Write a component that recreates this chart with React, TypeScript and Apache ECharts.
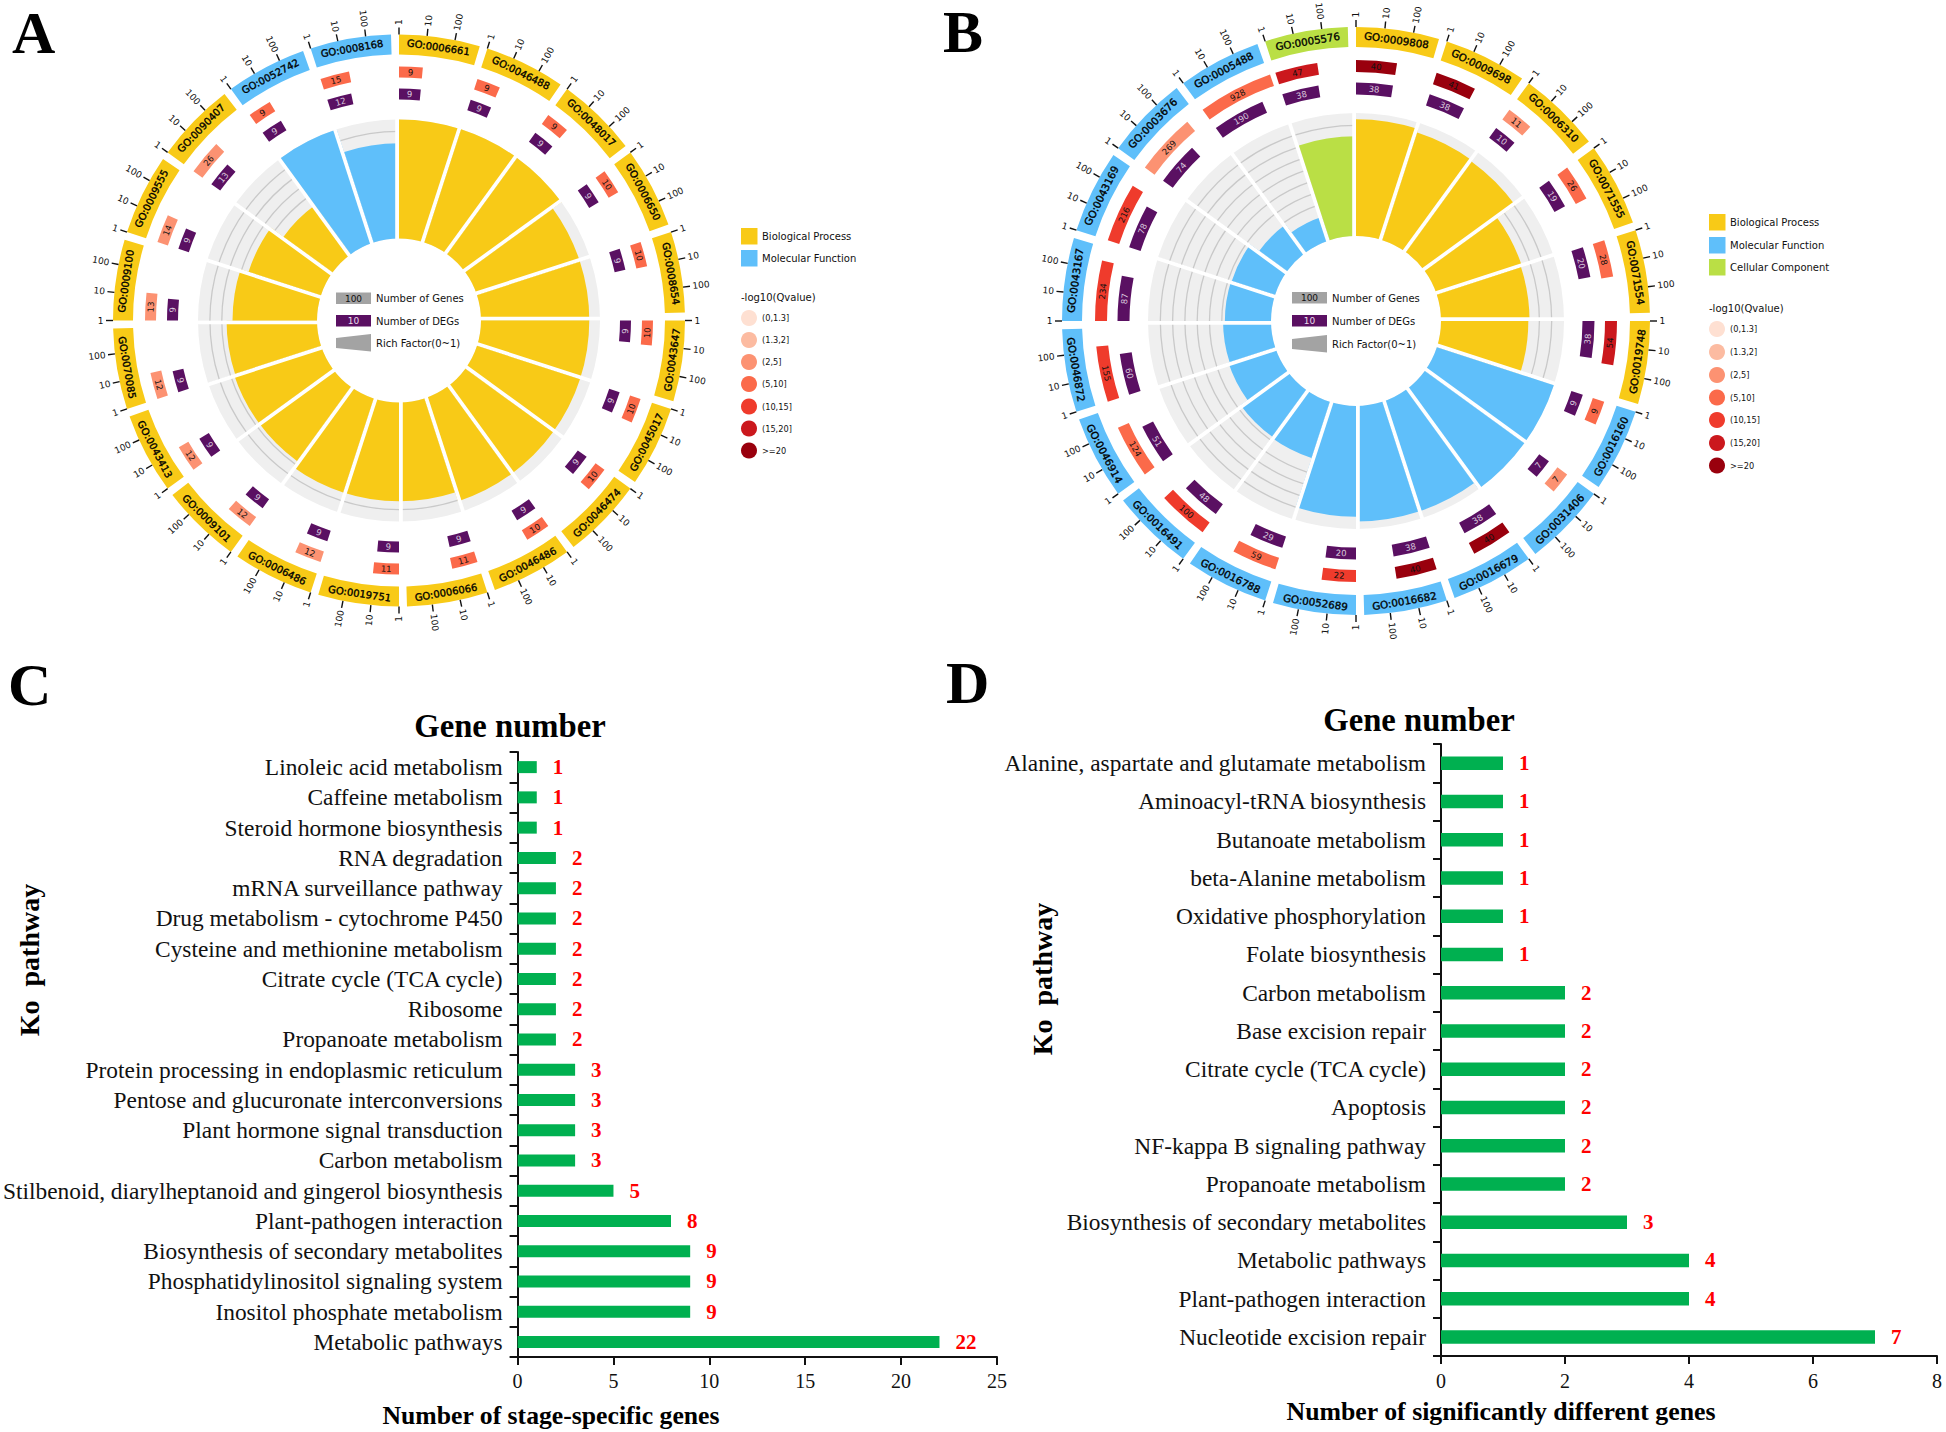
import React, { useEffect, useRef } from "react";
import * as echarts from "echarts";

const GOLD = "#F8CA17";
const BLUE = "#5FBFFA";
const GREEN = "#BADF45";
const PURPLE = "#5A1062";
const QCOLORS = ["#FEE0D2", "#FCBBA1", "#FC9272", "#FB6A4A", "#EF3B2C", "#CB181D", "#99000D"];
const QLABELS = ["(0,1.3]", "(1.3,2]", "(2,5]", "(5,10]", "(10,15]", "(15,20]", ">=20"];

const termsA = ["GO:0006661","GO:0046488","GO:0048017","GO:0006650","GO:0008654","GO:0043647","GO:0045017","GO:0046474","GO:0046486","GO:0006066","GO:0019751","GO:0006486","GO:0009101","GO:0043413","GO:0070085","GO:0009100","GO:0009555","GO:0090407","GO:0052742","GO:0008168"];
const groupA = ["B","B","B","B","B","B","B","B","B","B","B","B","B","B","B","B","B","B","M","M"];
const genesA = [9,9,9,10,10,10,10,10,10,11,11,12,12,12,12,13,14,26,9,15];
const degsA = [9,9,9,9,9,9,9,9,9,9,9,9,9,9,9,9,9,13,9,12];
const qbinA = [3,3,3,3,3,3,3,3,3,3,3,2,2,2,2,2,2,2,3,3];
const richA = [1,1,1,0.91,0.91,0.91,0.91,0.91,0.91,0.83,0.83,0.83,0.77,0.77,0.76,0.71,0.64,0.51,1,0.8];

const termsB = ["GO:0009808","GO:0009698","GO:0006310","GO:0071555","GO:0071554","GO:0019748","GO:0016160","GO:0031406","GO:0016679","GO:0016682","GO:0052689","GO:0016788","GO:0016491","GO:0046914","GO:0046872","GO:0043167","GO:0043169","GO:0003676","GO:0005488","GO:0005576"];
const groupB = ["B","B","B","B","B","B","M","M","M","M","M","M","M","M","M","M","M","M","M","C"];
const genesB = [40,41,11,26,28,54,9,7,40,40,22,59,100,124,155,234,216,269,928,47];
const degsB = [38,38,10,19,20,38,9,7,38,38,20,29,48,51,60,87,78,74,190,38];
const qbinB = [6,6,2,3,3,5,3,2,6,6,4,3,4,3,4,4,4,2,3,5];
const richB = [0.95,0.92,0.91,0.73,0.72,0.71,1,1,0.94,0.94,0.9,0.48,0.47,0.4,0.39,0.375,0.37,0.28,0.2,0.81];

const pathwaysC = ["Linoleic acid metabolism","Caffeine metabolism","Steroid hormone biosynthesis","RNA degradation","mRNA surveillance pathway","Drug metabolism - cytochrome P450","Cysteine and methionine metabolism","Citrate cycle (TCA cycle)","Ribosome","Propanoate metabolism","Protein processing in endoplasmic reticulum","Pentose and glucuronate interconversions","Plant hormone signal transduction","Carbon metabolism","Stilbenoid, diarylheptanoid and gingerol biosynthesis","Plant-pathogen interaction","Biosynthesis of secondary metabolites","Phosphatidylinositol signaling system","Inositol phosphate metabolism","Metabolic pathways"];
const countsC = [1,1,1,2,2,2,2,2,2,2,3,3,3,3,5,8,9,9,9,22];
const pathwaysD = ["Alanine, aspartate and glutamate metabolism","Aminoacyl-tRNA biosynthesis","Butanoate metabolism","beta-Alanine metabolism","Oxidative phosphorylation","Folate biosynthesis","Carbon metabolism","Base excision repair","Citrate cycle (TCA cycle)","Apoptosis","NF-kappa B signaling pathway","Propanoate metabolism","Biosynthesis of secondary metabolites","Metabolic pathways","Plant-pathogen interaction","Nucleotide excision repair"];
const countsD = [1,1,1,1,1,1,2,2,2,2,2,2,3,4,4,7];

const SANS = "DejaVu Sans";
const SERIF = "Liberation Serif";
const STEP = 18;
const DECADE = 5.65;
const GAP_PX = 3.8;
const groupColor: Record<string, string> = { B: GOLD, M: BLUE, C: GREEN };

const toRad = (deg: number) => ((deg - 90) * Math.PI) / 180;
const tangentRot = (deg: number) => {
  const d = deg > 90 && deg < 270 ? deg - 180 : deg > 270 ? deg - 360 : deg;
  return (-d * Math.PI) / 180;
};

function place(api: any, params: any, r: number, a: number) {
  const [x, y] = api.coord([r, a]);
  const cs = params.coordSys;
  return { x, y, cx: cs.cx, cy: cs.cy, r: Math.hypot(x - cs.cx, y - cs.cy) };
}

function sectorEl(api: any, params: any, r0: number, r1: number, a0: number, a1: number, fill: string) {
  const p0 = place(api, params, r0, a0);
  const p1 = place(api, params, r1, a0);
  return {
    type: "sector",
    shape: { cx: p0.cx, cy: p0.cy, r0: p0.r, r: p1.r, startAngle: toRad(a0), endAngle: toRad(a1), clockwise: true },
    style: { fill },
  };
}

function tangentText(api: any, params: any, r: number, a: number, text: string, fontSize: number, fill: string, bold = false) {
  const p = place(api, params, r, a);
  const style: any = { text, x: 0, y: 0, align: "center", verticalAlign: "middle", fontSize, fontFamily: SANS, fill };
  if (bold) {
    style.stroke = fill;
    style.lineWidth = 0.35;
  }
  return { type: "text", x: p.x, y: p.y, rotation: tangentRot(a), style };
}

// white band of constant width along the clockwise edge of a sector
function gapEl(api: any, params: any, r0: number, r1: number, a: number) {
  const s = place(api, params, r0, a);
  const e = place(api, params, r1, a);
  const t = toRad(a);
  const nx = Math.sin(t) * GAP_PX;
  const ny = -Math.cos(t) * GAP_PX;
  return {
    type: "polygon",
    shape: { points: [[s.x, s.y], [e.x, e.y], [e.x + nx, e.y + ny], [s.x + nx, s.y + ny]] },
    style: { fill: "#fff" },
  };
}

function circlePanel(p: number, g: any) {
  const common = { type: "custom", coordinateSystem: "polar", polarIndex: p, silent: true };
  const seed = g.terms.map((_: string, i: number) => [g.rFull, i * STEP]);
  const richR = (f: number) => g.rIn + f * (g.rFull - g.rIn);
  return [
    {
      ...common,
      name: "Rich Factor " + p,
      data: seed,
      renderItem: (params: any, api: any) => {
        const i = params.dataIndex;
        const a0 = i * STEP;
        const a1 = a0 + STEP;
        const children: any[] = [sectorEl(api, params, g.rIn, g.rFull, a0, a1, "#EFEFEF")];
        for (let k = 1; k < 10; k++) {
          if (k / 10 > g.rich[i] + 0.02) {
            const q = place(api, params, richR(k / 10), a0);
            children.push({
              type: "arc",
              shape: { cx: q.cx, cy: q.cy, r: q.r, startAngle: toRad(a0), endAngle: toRad(a1), clockwise: true },
              style: { stroke: "#C9C9C9", lineWidth: 1.3, fill: "none" },
            });
          }
        }
        children.push(sectorEl(api, params, g.rIn, richR(g.rich[i]), a0, a1, groupColor[g.group[i]]));
        children.push(gapEl(api, params, g.rIn - 1, g.rFull + 1, a1));
        return { type: "group", children };
      },
    },
    {
      ...common,
      name: "GO terms " + p,
      data: seed,
      renderItem: (params: any, api: any) => {
        const i = params.dataIndex;
        const a0 = i * STEP;
        const children: any[] = [
          sectorEl(api, params, g.rRing0, g.rRing1, a0, a0 + 16.4, groupColor[g.group[i]]),
          tangentText(api, params, (g.rRing0 + g.rRing1) / 2, a0 + 8.2, g.terms[i], g.ringFont, "#000", true),
        ];
        [1, 10, 100].forEach((t, k) => {
          const a = a0 + k * DECADE;
          const s = place(api, params, g.rRing1, a);
          const e = place(api, params, g.rRing1 + 7, a);
          const l = place(api, params, g.rRing1 + 9.5, a);
          children.push({
            type: "line",
            shape: { x1: s.x, y1: s.y, x2: e.x, y2: e.y },
            style: { stroke: "#111", lineWidth: 1.4 },
          });
          const right = a < 180;
          children.push({
            type: "text",
            x: l.x,
            y: l.y,
            rotation: (-(right ? a - 90 : a - 270) * Math.PI) / 180,
            style: { text: String(t), x: 0, y: 0, align: right ? "left" : "right", verticalAlign: "middle", fontSize: 9, fontFamily: SANS, fill: "#111" },
          });
        });
        return { type: "group", children };
      },
    },
    {
      ...common,
      name: "Number of Genes " + p,
      data: seed,
      renderItem: (params: any, api: any) => {
        const i = params.dataIndex;
        const a0 = i * STEP;
        const a1 = a0 + Math.log10(g.genes[i]) * DECADE;
        return {
          type: "group",
          children: [
            sectorEl(api, params, g.rGene0, g.rGene1, a0, a1, QCOLORS[g.qbin[i]]),
            tangentText(api, params, (g.rGene0 + g.rGene1) / 2, (a0 + a1) / 2, String(g.genes[i]), 8.5, "#111"),
          ],
        };
      },
    },
    {
      ...common,
      name: "Number of DEGs " + p,
      data: seed,
      renderItem: (params: any, api: any) => {
        const i = params.dataIndex;
        const a0 = i * STEP;
        const a1 = a0 + Math.log10(g.degs[i]) * DECADE;
        return {
          type: "group",
          children: [
            sectorEl(api, params, g.rDeg0, g.rDeg1, a0, a1, PURPLE),
            tangentText(api, params, (g.rDeg0 + g.rDeg1) / 2, (a0 + a1) / 2, String(g.degs[i]), 8.5, "#D9C8DC"),
          ],
        };
      },
    },
  ];
}

function txt(x: number, y: number, text: string, font: number, opts: any = {}) {
  return {
    type: "text",
    x,
    y,
    rotation: opts.rotation || 0,
    style: {
      text,
      x: 0,
      y: 0,
      fontSize: font,
      fontFamily: opts.family || SANS,
      fontWeight: opts.weight || "normal",
      fill: opts.fill || "#111",
      textAlign: opts.align || "left",
      textVerticalAlign: "middle",
    },
  };
}

function rectEl(x: number, y: number, w: number, h: number, fill: string) {
  return { type: "rect", shape: { x, y, width: w, height: h }, style: { fill } };
}

function legendEls(sideX: number, textX: number, squares: [string, string][], squareY: number[], qTitleY: number, qY: number[], qCx: number, labelFont: number) {
  const out: any[] = [];
  squares.forEach((s, i) => {
    out.push(rectEl(sideX, squareY[i], 16.5, 16.5, s[1]));
    out.push(txt(textX, squareY[i] + 8, s[0], labelFont));
  });
  out.push(txt(sideX, qTitleY, "-log10(Qvalue)", labelFont));
  QLABELS.forEach((l, i) => {
    out.push({ type: "circle", shape: { cx: qCx, cy: qY[i], r: 8 }, style: { fill: QCOLORS[i] } });
    out.push(txt(textX, qY[i], l, 8.2));
  });
  return out;
}

function innerLegend(x: number, ys: number[], textX: number) {
  return [
    rectEl(x, ys[0], 35, 11.5, "#A3A3A3"),
    txt(x + 17.5, ys[0] + 6, "100", 9, { align: "center" }),
    txt(textX, ys[0] + 6, "Number of Genes", 10),
    rectEl(x, ys[1], 35, 11.5, PURPLE),
    txt(x + 17.5, ys[1] + 6, "10", 9, { align: "center", fill: "#E8DDE9" }),
    txt(textX, ys[1] + 6, "Number of DEGs", 10),
    {
      type: "polygon",
      shape: { points: [[x, ys[2] + 4], [x + 35, ys[2]], [x + 35, ys[2] + 17.5], [x, ys[2] + 14]] },
      style: { fill: "#A3A3A3" },
    },
    txt(textX, ys[2] + 9, "Rich Factor(0~1)", 10),
  ];
}

function barGrid(index: number, cats: string[], vals: number[], max: number, interval: number, barH: number) {
  const grid = index === 0
    ? { left: 516, top: 752, width: 481, height: 605 }
    : { left: 1441, top: 744, width: 496, height: 612 };
  const axisLine = { show: true, lineStyle: { color: "#111", width: 2 } };
  const axisTick = { show: true, length: 8, lineStyle: { color: "#111", width: 2 } };
  return {
    grid,
    xAxis: {
      gridIndex: index,
      type: "value",
      min: 0,
      max,
      interval,
      axisLine,
      axisTick,
      splitLine: { show: false },
      axisLabel: { color: "#111", fontFamily: SERIF, fontSize: 20, margin: index === 0 ? 14 : 15 },
    },
    yAxis: {
      gridIndex: index,
      type: "category",
      inverse: true,
      data: cats,
      axisLine,
      axisTick,
      axisLabel: { color: "#111", fontFamily: SERIF, fontSize: 23.4, margin: 15 },
    },
    series: {
      type: "bar",
      xAxisIndex: index,
      yAxisIndex: index,
      data: vals,
      barWidth: barH,
      itemStyle: { color: "#00B050" },
      label: {
        show: true,
        position: "right",
        distance: 16,
        color: "#FF0000",
        fontFamily: SERIF,
        fontWeight: "bold",
        fontSize: 21,
      },
    },
  };
}

const panelA = {
  terms: termsA, group: groupA, genes: genesA, degs: degsA, qbin: qbinA, rich: richA,
  rIn: 82, rFull: 201, rRing0: 266, rRing1: 286, rGene0: 243, rGene1: 254, rDeg0: 221, rDeg1: 232, ringFont: 10,
};
const panelB = {
  terms: termsB, group: groupB, genes: genesB, degs: degsB, qbin: qbinB, rich: richB,
  rIn: 85, rFull: 208, rRing0: 274, rRing1: 294, rGene0: 249, rGene1: 261, rDeg0: 226.5, rDeg1: 238.5, ringFont: 10.3,
};

export default function App() {
  const ref = useRef<HTMLDivElement>(null);
  useEffect(() => {
    const chart = echarts.init(ref.current!, undefined, { renderer: "svg" });
    const c = barGrid(0, pathwaysC, countsC, 25, 5, 12);
    const d = barGrid(1, pathwaysD, countsD, 8, 2, 13.5);
    const polarAxes = (center: number[], R: number) => ({
      polar: { center, radius: [0, R + 40] },
      max: R + 40,
    });
    const pa = polarAxes([399, 320.5], 286);
    const pb = polarAxes([1356, 321], 294);
    const letter = (x: number, y: number, s: string) => txt(x, y, s, 60, { family: SERIF, weight: "bold", fill: "#000" });
    const serifBold = { family: SERIF, weight: "bold", fill: "#000", align: "center" };
    chart.setOption({
      animation: false,
      backgroundColor: "#fff",
      tooltip: { show: false },
      polar: [pa.polar, pb.polar],
      angleAxis: [0, 1].map((i) => ({ polarIndex: i, type: "value", min: 0, max: 360, startAngle: 90, clockwise: true, show: false })),
      radiusAxis: [pa, pb].map((p, i) => ({ polarIndex: i, type: "value", min: 0, max: p.max, show: false })),
      grid: [c.grid, d.grid],
      xAxis: [c.xAxis, d.xAxis],
      yAxis: [c.yAxis, d.yAxis],
      series: [...circlePanel(0, panelA), ...circlePanel(1, panelB), c.series, d.series],
      graphic: {
        elements: [
          letter(12, 33, "A"),
          letter(943, 32, "B"),
          letter(8, 685, "C"),
          letter(946, 683, "D"),
          txt(510, 726, "Gene number", 32.7, serifBold),
          txt(1419, 720, "Gene number", 32.7, serifBold),
          txt(551, 1415, "Number of stage-specific genes", 25.7, serifBold),
          txt(1501, 1411, "Number of significantly different genes", 25.8, serifBold),
          txt(29, 960, "Ko  pathway", 28, { ...serifBold, rotation: Math.PI / 2 }),
          txt(1042, 979, "Ko  pathway", 28, { ...serifBold, rotation: Math.PI / 2 }),
          ...innerLegend(336, [292.5, 315, 334], 376),
          ...innerLegend(1292, [292, 315, 335], 1332),
          ...legendEls(741, 762, [["Biological Process", GOLD], ["Molecular Function", BLUE]], [228, 250], 297, [318, 340, 362, 384, 406.5, 428.5, 450.5], 749, 10),
          ...legendEls(1709, 1730, [["Biological Process", GOLD], ["Molecular Function", BLUE], ["Cellular Component", GREEN]], [214, 237, 259], 308, [329, 352, 375, 397.5, 420, 443, 465.5], 1717, 10),
        ],
      },
    });
    return () => chart.dispose();
  }, []);
  return <div ref={ref} style={{ position: "absolute", left: 0, top: 0, width: 1946, height: 1432 }} />;
}
